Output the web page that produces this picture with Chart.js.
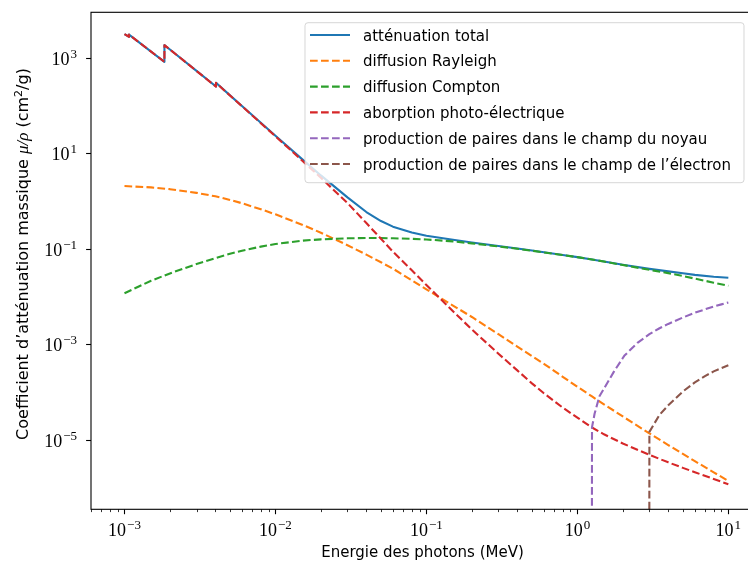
<!DOCTYPE html>
<html>
<head>
<meta charset="utf-8">
<script src="https://cdn.jsdelivr.net/npm/chart.js@4.4.0/dist/chart.umd.min.js"></script>
<style>
  html, body { margin: 0; padding: 0; background: #fff; overflow: hidden; }
  #wrap { position: relative; width: 770px; height: 563px; }
</style>
</head>
<body>
<div id="wrap"><canvas id="chart-attenuation"></canvas></div>
<script>
// energies (MeV) for the smooth scattering components
const energy = [1e-3, 1.5e-3, 2e-3, 3e-3, 4e-3, 5e-3, 6e-3, 8e-3, 1e-2, 1.5e-2, 2e-2, 3e-2, 4e-2, 5e-2, 6e-2, 8e-2,
  0.1, 0.15, 0.2, 0.3, 0.4, 0.5, 0.6, 0.8, 1.0, 1.25, 1.5, 2.0, 3.0, 4.0, 5.0, 6.0, 8.0, 10.0];

const rayleigh = [2.07, 1.94, 1.78, 1.49, 1.26, 1.06, 0.902, 0.676, 0.528, 0.321, 0.217, 0.119, 0.0755, 0.0522, 0.0384, 0.0219,
  0.0141, 0.00646, 0.00372, 0.00162, 8.91e-4, 5.62e-4, 3.88e-4, 2.07e-4, 1.28e-4, 8.02e-5, 5.50e-5, 3.05e-5,
  1.35e-5, 7.67e-6, 4.99e-6, 3.53e-6, 2.06e-6, 1.36e-6];

const compton = [0.0117, 0.0214, 0.0305, 0.0479, 0.0638, 0.0785, 0.0912, 0.111, 0.126, 0.148, 0.158, 0.166, 0.168, 0.168, 0.166, 0.162,
  0.157, 0.143, 0.130, 0.112, 0.100, 0.0912, 0.0841, 0.0741, 0.0668, 0.0596, 0.0540, 0.0457,
  0.0363, 0.0309, 0.0269, 0.0237, 0.0195, 0.0168];

// energies (MeV) for pair production, from the 1.022 MeV threshold
const pairEnergy = [1.022, 1.25, 1.3, 1.4, 1.5, 1.75, 2.0, 2.044, 2.5, 3.0, 3.5, 4.0, 5.0, 6.0, 7.0, 8.0, 9.0, 10.0];

const pairNucleus = [0, 1.82e-5, 3.47e-5, 8.13e-5, 1.17e-4, 2.69e-4, 5.13e-4, 5.69e-4, 1.07e-3,
  1.62e-3, 2.16e-3, 2.66e-3, 3.63e-3, 4.57e-3, 5.37e-3, 6.17e-3, 6.84e-3, 7.50e-3];

const pairElectron = [0, 0, 0, 0, 0, 0, 0, 0, 0,
  1.45e-5, 3.3e-5, 5.25e-5, 1.02e-4, 1.58e-4, 2.14e-4, 2.69e-4, 3.16e-4, 3.63e-4];

// energies with absorption edges (doubled values) for photo-electric and total
const energyEdges = [1e-3, 1.072e-3, 1.072e-3, 1.5e-3, 1.839e-3, 1.839e-3, 2e-3, 3e-3, 4.038e-3, 4.038e-3, 5e-3, 6e-3, 8e-3,
  1e-2, 1.5e-2, 2e-2, 3e-2, 4e-2, 5e-2, 6e-2, 8e-2, 0.1, 0.15, 0.2, 0.3, 0.4, 0.5, 0.6, 0.8,
  1.0, 1.25, 1.5, 2.0, 3.0, 4.0, 5.0, 6.0, 8.0, 10.0];

const photo = [3160, 2790, 3090, 1365, 832, 1860, 1510, 536, 251, 302, 164, 97.7, 43.1,
  22.8, 7.13, 3.08, 0.912, 0.347, 0.162, 0.0871, 0.0355, 0.0174, 0.0049, 0.00204, 6.31e-4, 2.82e-4, 1.51e-4, 9.33e-5, 4.68e-5,
  2.88e-5, 1.79e-5, 1.29e-5, 8.28e-6, 4.78e-6, 3.33e-6, 2.55e-6, 2.07e-6, 1.49e-6, 1.16e-6];

const total = [3162, 2792, 3092, 1367, 834, 1862, 1512, 538, 252.5, 303.5, 165, 98.7, 43.9,
  23.45, 7.60, 3.455, 1.197, 0.5905, 0.382, 0.2915, 0.2194, 0.1885, 0.1544, 0.1358, 0.1143, 0.1012, 0.0919, 0.0846, 0.0744,
  0.0670, 0.0597, 0.0542, 0.0463, 0.0380, 0.0336, 0.0306, 0.0284, 0.0259, 0.0247];

const seriesLabels = [
  'atténuation total',
  'diffusion Rayleigh',
  'diffusion Compton',
  'aborption photo-électrique',
  'production de paires dans le champ du noyau',
  'production de paires dans le champ de l’électron',
];

const xTickExps = [-3, -2, -1, 0, 1];
const yTickExps = [3, 1, -1, -3, -5];

const COLORS = ['#1f77b4', '#ff7f0e', '#2ca02c', '#d62728', '#9467bd', '#8c564b'];
const DASH = [7.7, 3.3];
const SANS = '"DejaVu Sans", sans-serif';
const SERIF = '"Liberation Serif", serif';

// log axis: a zero is pushed far below the axis, as matplotlib clips it
function pts(xs, ys) {
  return xs.map((e, i) => ({ x: e, y: ys[i] > 0 ? ys[i] : 1e-300 }));
}

function series(i, xs, ys, dashed) {
  return {
    label: seriesLabels[i],
    data: pts(xs, ys),
    borderColor: COLORS[i],
    borderWidth: 2.1,
    borderDash: dashed ? DASH : [],
    borderJoinStyle: 'round',
    pointRadius: 0,
    tension: 0,
    fill: false,
    order: 10 - i,
  };
}

function drawPower(ctx, exp, x, baseY, align) {
  const sup = exp < 0 ? '\u2212' + (-exp) : String(exp);
  ctx.font = '18px ' + SERIF;
  const wb = ctx.measureText('10').width;
  ctx.font = '13px ' + SERIF;
  const ws = ctx.measureText(sup).width;
  const w = wb + 1 + ws;
  const left = align === 'center' ? x - w / 2 : x - w;
  ctx.textAlign = 'left';
  ctx.textBaseline = 'alphabetic';
  ctx.font = '18px ' + SERIF;
  ctx.fillText('10', left, baseY);
  ctx.font = '13px ' + SERIF;
  ctx.fillText(sup, left + wb + 1, baseY - 6.5);
}

const mplLook = {
  id: 'mplLook',
  afterDatasetsDraw(chart) {
    const { ctx, chartArea: a, scales: { x, y } } = chart;
    ctx.save();
    ctx.fillStyle = '#000';
    ctx.strokeStyle = '#000';

    // x ticks, major and minor
    for (let k = -4; k <= 1; k++) {
      for (let m = 1; m <= 9; m++) {
        const v = m * Math.pow(10, k);
        if (v < x.min || v > x.max) continue;
        const px = Math.round(x.getPixelForValue(v)) + 0.5;
        ctx.lineWidth = m === 1 ? 1.1 : 0.8;
        ctx.beginPath();
        ctx.moveTo(px, a.bottom);
        ctx.lineTo(px, a.bottom + (m === 1 ? 4.9 : 2.8));
        ctx.stroke();
      }
    }
    xTickExps.forEach(e => drawPower(ctx, e, x.getPixelForValue(Math.pow(10, e)), a.bottom + 26.5, 'center'));

    // y ticks
    ctx.lineWidth = 1.1;
    yTickExps.forEach(e => {
      const py = Math.round(y.getPixelForValue(Math.pow(10, e))) + 0.5;
      ctx.beginPath();
      ctx.moveTo(a.left, py);
      ctx.lineTo(a.left - 4.9, py);
      ctx.stroke();
      drawPower(ctx, e, a.left - 14, py + 6, 'right');
    });

    // frame
    ctx.lineWidth = 1.1;
    ctx.strokeRect(a.left, a.top, a.right - a.left, a.bottom - a.top);

    // axis titles
    ctx.font = '15px ' + SANS;
    ctx.textAlign = 'center';
    ctx.textBaseline = 'alphabetic';
    ctx.fillText('Energie des photons (MeV)', (a.left + a.right) / 2, 557);

    ctx.save();
    ctx.translate(28, 254);
    ctx.rotate(-Math.PI / 2);
    const parts = [
      { t: 'Coefficient d’atténuation massique ', f: '16px ' + SANS, dy: 0 },
      { t: 'μ/ρ', f: 'italic 17px ' + SERIF, dy: 0 },
      { t: ' (cm', f: '16px ' + SANS, dy: 0 },
      { t: '2', f: '11px ' + SANS, dy: -6.5 },
      { t: '/g)', f: '16px ' + SANS, dy: 0 },
    ];
    let tw = 0;
    parts.forEach(p => { ctx.font = p.f; p.w = ctx.measureText(p.t).width; tw += p.w; });
    let cx = -tw / 2;
    ctx.textAlign = 'left';
    parts.forEach(p => { ctx.font = p.f; ctx.fillText(p.t, cx, p.dy); cx += p.w; });
    ctx.restore();

    // legend
    const lx = 305, ly = 22.7, lw = 439, lh = 160;
    ctx.beginPath();
    ctx.roundRect(lx, ly, lw, lh, 3);
    ctx.fillStyle = 'rgba(255,255,255,0.8)';
    ctx.fill();
    ctx.strokeStyle = 'rgba(204,204,204,0.8)';
    ctx.lineWidth = 1;
    ctx.stroke();

    chart.data.datasets.forEach((ds, i) => {
      const ry = 35 + i * 25.8;
      ctx.strokeStyle = ds.borderColor;
      ctx.lineWidth = 2.1;
      ctx.setLineDash(ds.borderDash);
      ctx.beginPath();
      ctx.moveTo(310, ry);
      ctx.lineTo(350, ry);
      ctx.stroke();
      ctx.setLineDash([]);
      ctx.fillStyle = '#000';
      ctx.font = '15px ' + SANS;
      ctx.textAlign = 'left';
      ctx.textBaseline = 'alphabetic';
      ctx.fillText(ds.label, 363, ry + 5.5);
    });

    ctx.restore();
  },
};

new Chart(document.getElementById('chart-attenuation'), {
  type: 'line',
  data: {
    datasets: [
      series(0, energyEdges, total, false),
      series(1, energy, rayleigh, true),
      series(2, energy, compton, true),
      series(3, energyEdges, photo, true),
      series(4, pairEnergy, pairNucleus, true),
      series(5, pairEnergy, pairElectron, true),
    ],
  },
  options: {
    responsive: true,
    maintainAspectRatio: false,
    animation: false,
    events: [],
    layout: { padding: { top: 12.3, right: 16, left: 0, bottom: 0 } },
    plugins: { legend: { display: false }, tooltip: { enabled: false } },
    scales: {
      x: {
        type: 'logarithmic',
        min: Math.pow(10, -3.2136),
        max: Math.pow(10, 1.17),
        grid: { display: false },
        border: { display: false },
        ticks: { display: false },
        afterFit: s => { s.height = 53.7; },
      },
      y: {
        type: 'logarithmic',
        min: Math.pow(10, -6.462),
        max: Math.pow(10, 3.959),
        grid: { display: false },
        border: { display: false },
        ticks: { display: false },
        afterFit: s => { s.width = 91; },
      },
    },
  },
  plugins: [mplLook],
});
</script>
</body>
</html>
